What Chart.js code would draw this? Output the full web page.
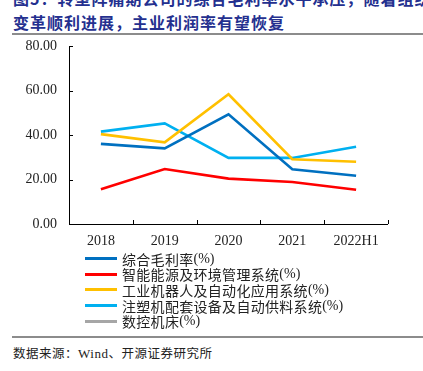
<!DOCTYPE html>
<html><head><meta charset="utf-8">
<script src="https://cdn.jsdelivr.net/npm/chart.js@4/dist/chart.umd.min.js"></script>
<style>
html,body{margin:0;padding:0;background:#fff;width:423px;height:371px;overflow:hidden;}
#wrap{position:relative;width:423px;height:371px;overflow:hidden;}
.title{position:absolute;left:13px;font-family:"Noto Sans CJK SC";font-weight:bold;font-size:16px;color:#24308f;letter-spacing:1px;white-space:nowrap;line-height:22px;}
.hr{position:absolute;left:12px;right:0;height:2px;background:#8c8c8c;}
#cv{position:absolute;left:0;top:0;}
#legend{position:absolute;left:85px;top:251px;}
.li{height:15.6px;display:flex;align-items:center;font-family:"Liberation Serif","Noto Sans CJK SC";font-size:14px;color:#222;white-space:nowrap;}
.li span.cj{font-family:"Noto Sans CJK SC";letter-spacing:0.3px;}
.sw{width:32px;height:3px;margin-right:5px;}
.src{position:absolute;left:13px;top:343px;font-family:"Noto Sans CJK SC";font-size:12.5px;color:#222;white-space:nowrap;letter-spacing:0.5px;}
.src .en{font-family:"Liberation Serif";font-size:13px;}
</style></head>
<body><div id="wrap">
<div class="title" style="top:-13px">图5：转型阵痛期公司的综合毛利率水平承压，随着组织</div>
<div class="title" style="top:11px">变革顺利进展，主业利润率有望恢复</div>
<div class="hr" style="top:33px"></div>
<canvas id="cv" width="423" height="251"></canvas>
<div id="legend"></div>
<div class="hr" style="top:336px"></div>
<div class="src">数据来源：<span class="en">Wind</span>、开源证券研究所</div>
</div>
<script>
const categories = ["2018","2019","2020","2021","2022H1"];
const seriesNames = ["综合毛利率","智能能源及环境管理系统","工业机器人及自动化应用系统","注塑机配套设备及自动供料系统","数控机床"];
const grossMargin = [36.0, 34.0, 49.3, 24.6, 21.7];
const energySystem = [15.6, 24.7, 20.4, 18.9, 15.4];
const robotSystem = [40.4, 36.7, 58.3, 29.1, 28.0];
const injectionSystem = [41.5, 45.2, 29.7, 29.7, 34.7];
const cncMachine = [null, null, null, null, null];
const yTicks = [0, 20, 40, 60, 80];
const colors = ["#0070C0","#FF0000","#FFC000","#00B0F0","#A6A6A6"];

const allData = [grossMargin, energySystem, robotSystem, injectionSystem, cncMachine];
const datasets = allData.map((d,i)=>({
  label: seriesNames[i] + "(%)",
  data: d,
  borderColor: colors[i],
  backgroundColor: colors[i],
  borderWidth: 2.6,
  pointRadius: 0,
  tension: 0,
  spanGaps: false
}));

const tickMarks = {
  id: 'tickMarks',
  afterDraw(chart){
    const ctx = chart.ctx;
    const xs = chart.scales.x, ys = chart.scales.y;
    ctx.save();
    ctx.strokeStyle = '#000';
    ctx.lineWidth = 1;
    ctx.beginPath();
    ctx.moveTo(xs.left + 0.5, ys.top);
    ctx.lineTo(xs.left + 0.5, ys.bottom + 0.5);
    ctx.lineTo(xs.right, ys.bottom + 0.5);
    ctx.stroke();
    ys.ticks.forEach(t=>{
      const y = Math.round(ys.getPixelForValue(t.value)) + 0.5;
      ctx.beginPath(); ctx.moveTo(xs.left, y); ctx.lineTo(xs.left + 4, y); ctx.stroke();
    });
    const n = categories.length;
    for (let i = 1; i <= n; i++) {
      const x = Math.round((xs.getPixelForTick(i-1) + (i < n ? xs.getPixelForTick(i) : 2*xs.getPixelForTick(n-1) - xs.getPixelForTick(n-2))) / 2) + 0.5;
      ctx.beginPath(); ctx.moveTo(x, ys.bottom); ctx.lineTo(x, ys.bottom - 4); ctx.stroke();
    }
    ctx.restore();
  }
};

new Chart(document.getElementById('cv'), {
  type: 'line',
  data: { labels: categories, datasets },
  options: {
    responsive: false,
    animation: false,
    devicePixelRatio: 1,
    layout: { padding: { left: 0, top: 46, right: 35, bottom: 0 } },
    plugins: { legend: { display: false }, tooltip: { enabled: false } },
    scales: {
      x: {
        type: 'category',
        offset: true,
        grid: { display: false, drawTicks: false },
        border: { display: false },
        ticks: { color: '#222', padding: 9, font: { family: 'Liberation Serif', size: 14 }, maxRotation: 0 },
        afterFit(s){ s.height = 27; }
      },
      y: {
        min: 0, max: 80,
        afterBuildTicks(s){ s.ticks = yTicks.map(v=>({value:v})); },
        grid: { display: false, drawTicks: false },
        border: { display: false },
        ticks: { color: '#222', padding: 12, font: { family: 'Liberation Serif', size: 14 }, callback: v => Number(v).toFixed(2) },
        afterFit(s){ s.width = 69; }
      }
    }
  },
  plugins: [tickMarks]
});

const lg = document.getElementById('legend');
seriesNames.forEach((n,i)=>{
  const d = document.createElement('div'); d.className='li';
  d.innerHTML = '<div class="sw" style="background:'+colors[i]+'"></div><span class="cj">'+n+'</span>(%)';
  lg.appendChild(d);
});
</script>
</body></html>
